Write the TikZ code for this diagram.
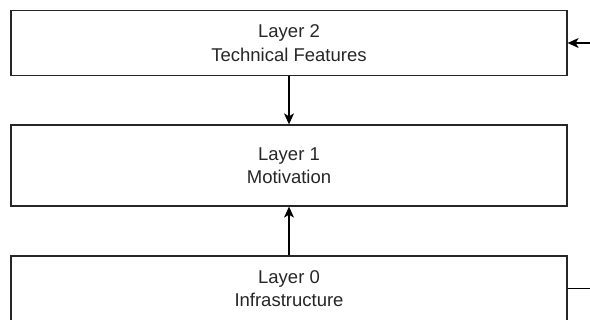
\documentclass[tikz,border=0pt]{standalone}
\usepackage{fontspec}
\setmainfont{Liberation Sans}
\usetikzlibrary{arrows.meta}
\begin{document}
\begin{tikzpicture}[x=1pt,y=-1pt,
  layerbox/.style={draw=black!85,line width=1.3pt,rectangle,minimum width=556pt,inner sep=0pt,
    align=center,font=\fontsize{18.5pt}{23.5pt}\selectfont,text=black!85},
  conn/.style={draw=black,line width=1.2pt,-{Stealth[length=11pt,width=10pt,inset=3pt]}}]
\useasboundingbox (0,0) rectangle (590,320);
\clip (0,0) rectangle (590,320);
\node[layerbox,minimum height=65pt] (l2) at (289,43) {Layer 2\\Technical Features};
\node[layerbox,minimum height=81pt] (l1) at (289,165.5) {Layer 1\\Motivation};
\node[layerbox,minimum height=65pt] (l0) at (289,288.5) {Layer 0\\Infrastructure};
\coordinate (rin) at (592,43);
\coordinate (rout) at (592,288.5);
\draw[conn] (l2.south) -- (l1.north);
\draw[conn] (l0.north) -- (l1.south);
\draw[conn] (rin) -- (l2.east);
\draw[draw=black,line width=1.2pt] (l0.east) -- (rout);
\end{tikzpicture}
\end{document}
